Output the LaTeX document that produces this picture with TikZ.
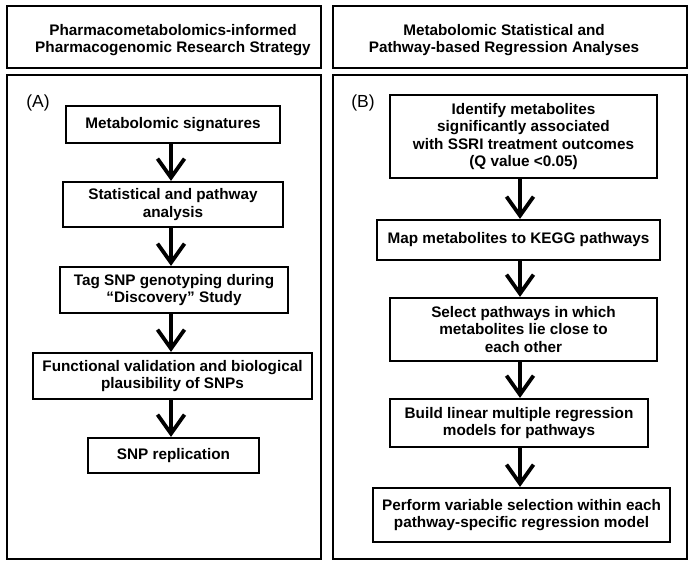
\documentclass[tikz,border=0pt]{standalone}
\usepackage{fontspec}
\setmainfont{Liberation Sans}
\usetikzlibrary{arrows.meta}
\begin{document}
\begin{tikzpicture}[x=1pt,y=-1pt,
  panel/.style={draw, line width=2.6pt, inner sep=0pt},
  stepbox/.style={draw, line width=2.2pt, inner sep=0pt, align=center,
    font=\bfseries\fontsize{15.3}{17.3}\selectfont},
  headtext/.style={align=center, inner sep=0pt, font=\bfseries\fontsize{15.3}{16.5}\selectfont},
  tag/.style={inner sep=0pt, font=\fontsize{17.5}{19}\selectfont},
  arr/.style={line width=3.8pt, -{Straight Barb[length=19pt,width=27pt]}}]
\useasboundingbox (0,0) rectangle (695,568);
% headers
\node[panel, minimum width=314pt, minimum height=62pt] (hA) at (164,37) {};
\node[panel, minimum width=354pt, minimum height=62pt] (hB) at (510,37) {};
\node[headtext] (hAt) at (173,40) {Pharmacometabolomics-informed\\Pharmacogenomic Research Strategy};
\node[headtext] (hBt) at (504,40) {Metabolomic Statistical and\\Pathway-based Regression Analyses};
% panels
\node[panel, minimum width=314pt, minimum height=484pt] (pA) at (164,317) {};
\node[panel, minimum width=354pt, minimum height=484pt] (pB) at (510,317) {};
\node[tag] (tA) at (38,103) {(A)};
\node[tag] (tB) at (363,103) {(B)};
% column coordinates
\coordinate (cA) at (171,0);
\coordinate (cB) at (520,0);
% left steps
\node[stepbox, minimum width=214pt, minimum height=37pt] (a1) at (173,124.5) {Metabolomic signatures};
\node[stepbox, minimum width=220pt, minimum height=45pt] (a2) at (173,204.5) {Statistical and pathway\\analysis};
\node[stepbox, minimum width=228pt, minimum height=46pt] (a3) at (174,290) {Tag SNP genotyping during\\``Discovery'' Study};
\node[stepbox, minimum width=279pt, minimum height=46pt] (a4) at (172.5,376) {Functional validation and biological\\plausibility of SNPs};
\node[stepbox, minimum width=171pt, minimum height=35pt] (a5) at (173.5,455.5) {SNP replication};
% right steps
\node[stepbox, minimum width=267pt, minimum height=83pt] (b1) at (523.5,136.5) {Identify metabolites\\significantly associated\\with SSRI treatment outcomes\\(Q value {<}0.05)};
\node[stepbox, minimum width=283pt, minimum height=40pt] (b2) at (518.5,240) {Map metabolites to KEGG pathways};
\node[stepbox, minimum width=267pt, minimum height=63pt] (b3) at (523.5,329.5) {Select pathways in which\\metabolites lie close to\\each other};
\node[stepbox, minimum width=258pt, minimum height=48pt] (b4) at (519,423) {Build linear multiple regression\\models for pathways};
\node[stepbox, minimum width=297pt, minimum height=54pt] (b5) at (521.5,515) {Perform variable selection within each\\pathway-specific regression model};
% arrows
\draw[arr] (a1.south -| cA) -- (a2.north -| cA);
\draw[arr] (a2.south -| cA) -- (a3.north -| cA);
\draw[arr] (a3.south -| cA) -- (a4.north -| cA);
\draw[arr] (a4.south -| cA) -- (a5.north -| cA);
\draw[arr] (b1.south -| cB) -- (b2.north -| cB);
\draw[arr] (b2.south -| cB) -- (b3.north -| cB);
\draw[arr] (b3.south -| cB) -- (b4.north -| cB);
\draw[arr] (b4.south -| cB) -- (b5.north -| cB);
\end{tikzpicture}
\end{document}
